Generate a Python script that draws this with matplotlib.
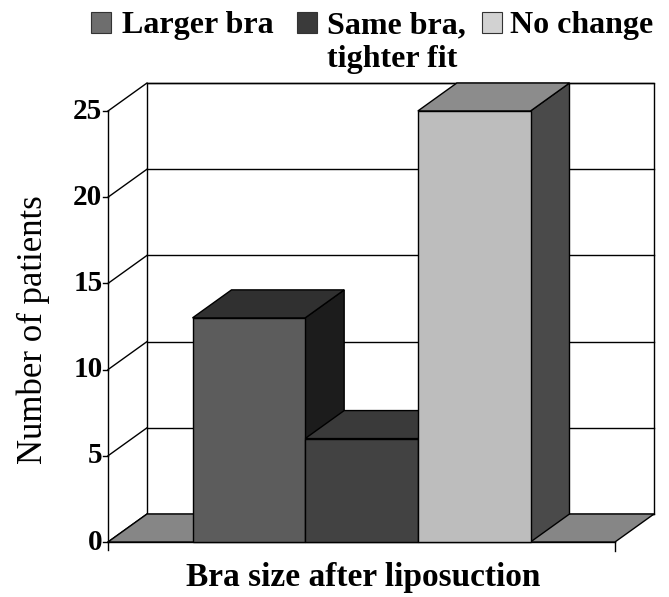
import matplotlib
matplotlib.use('Agg')
import matplotlib.pyplot as plt
from matplotlib.patches import Polygon, Rectangle

# data
series = ['Larger bra', 'Same bra,\ntighter fit', 'No change']
values = [13, 6, 25]
yticks = [0, 5, 10, 15, 20, 25]
front_colors = ['#5c5c5c', '#424242', '#bdbdbd']
top_colors = ['#303030', '#3a3a3a', '#8c8c8c']
side_colors = ['#1c1c1c', '#262626', '#4a4a4a']
swatch_colors = ['#6e6e6e', '#3a3a3a', '#d2d2d2']

W, H = 669, 597
plt.rcParams['font.family'] = ['Liberation Serif', 'DejaVu Serif']

fig = plt.figure(figsize=(W / 100, H / 100), dpi=100)
ax = fig.add_axes([0, 0, 1, 1])
ax.set_axis_off()

# front plane: x 0..1 -> px 108..615, y 0..25 -> px 542..111
x0, xw = 108, 507
y0, yk = 542, 431 / 25
ax.set_xlim(-x0 / xw, (W - x0) / xw)
ax.set_ylim((y0 - H) / yk, y0 / yk)
dx = 39 / xw      # depth offset
dy = 28 / yk
ymax = 25
lw = 1.0

# floor
ax.add_patch(Polygon([(0, 0), (1, 0), (1 + dx, dy), (dx, dy)], closed=True,
                     facecolor='#868686', edgecolor='black', lw=lw, zorder=1))
# back wall
ax.add_patch(Rectangle((dx, dy), 1, ymax, facecolor='white', edgecolor='black', lw=lw, zorder=0.5))
for v in yticks:
    ax.plot([dx, 1 + dx], [v + dy, v + dy], color='black', lw=lw, zorder=0.8)
    ax.plot([0, dx], [v, v], color='white', lw=0)
    ax.plot([0, dx], [v, v + dy], color='black', lw=lw, zorder=0.8)
    ax.plot([-0.01, 0], [v, v], color='black', lw=lw, zorder=0.8)
    ax.text(-0.011, v, str(v), ha='right', va='center', fontsize=21, fontweight='bold')
ax.plot([0, 0], [0, ymax], color='black', lw=lw, zorder=0.8)
ax.plot([0, 1], [0, 0], color='black', lw=lw, zorder=0.8)
ax.plot([0, 0], [0, -0.45], color='black', lw=lw)
ax.plot([1, 1], [0, -0.55], color='black', lw=lw)

# bars (gap width 150%)
n = len(values)
bw = 1 / (n + 1.5)
start = 0.75 * bw
for i, v in enumerate(values):
    l = start + i * bw
    r = l + bw
    z = 2 + i
    ax.add_patch(Polygon([(r, 0), (r + dx, dy), (r + dx, v + dy), (r, v)], closed=True,
                         facecolor=side_colors[i], edgecolor='black', lw=lw, zorder=z))
    ax.add_patch(Polygon([(l, v), (r, v), (r + dx, v + dy), (l + dx, v + dy)], closed=True,
                         facecolor=top_colors[i], edgecolor='black', lw=lw, zorder=z))
    ax.add_patch(Rectangle((l, 0), bw, v, facecolor=front_colors[i], edgecolor='black',
                           lw=lw, zorder=z))

# axis labels
ax.text(-0.148, 12.3, 'Number of patients', rotation=90, ha='center', va='center', fontsize=25)
ax.text(0.503, -2.05, 'Bra size after liposuction', ha='center', va='center',
        fontsize=24, fontweight='bold')

# legend
sw_x = [91, 297, 482]
tx_x = [122, 327, 510]
for i, name in enumerate(series):
    fig.patches.append(Rectangle((sw_x[i] / W, 1 - 33 / H), 20 / W, 21 / H,
                                 transform=fig.transFigure, facecolor=swatch_colors[i],
                                 edgecolor='#333333', lw=0.8))
    for k, line in enumerate(name.split('\n')):
        fig.text(tx_x[i] / W, 1 - (33 + 34 * k) / H, line, ha='left', va='baseline',
                 fontsize=23, fontweight='bold')

fig.savefig('out.png', dpi=100)
